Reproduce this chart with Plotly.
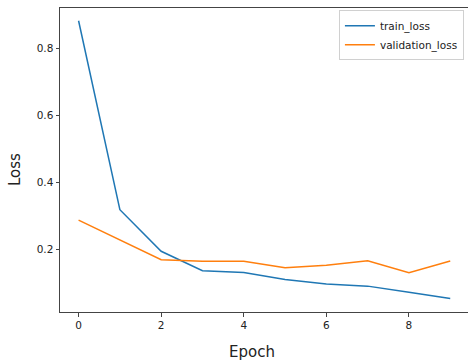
import plotly.graph_objects as go

epochs = [0, 1, 2, 3, 4, 5, 6, 7, 8, 9]
train_loss = [0.882, 0.318, 0.194, 0.136, 0.131, 0.110, 0.096, 0.090, 0.072, 0.053]
validation_loss = [0.287, 0.228, 0.169, 0.164, 0.164, 0.145, 0.152, 0.166, 0.130, 0.165]
x_ticks = [0, 2, 4, 6, 8]
y_ticks = [0.2, 0.4, 0.6, 0.8]

W, H = 468, 362
L, R, T, B = 60, 0, 8, 50

fig = go.Figure()
fig.add_trace(go.Scatter(x=epochs, y=train_loss, mode="lines", name="train_loss",
                         line=dict(color="#1f77b4", width=1.5)))
fig.add_trace(go.Scatter(x=epochs, y=validation_loss, mode="lines", name="validation_loss",
                         line=dict(color="#ff7f0e", width=1.5)))

font = "DejaVu Sans, sans-serif"
fig.update_layout(
    width=W, height=H,
    margin=dict(l=L, r=R, t=T, b=B),
    plot_bgcolor="white", paper_bgcolor="white",
    font=dict(family=font, size=10, color="#222"),
    showlegend=True,
    legend=dict(x=0.990, y=0.993, xanchor="right", yanchor="top",
                bgcolor="rgba(255,255,255,0.9)", bordercolor="#d0d0d0", borderwidth=1,
                font=dict(size=10.5, color="#222"), itemwidth=30,
                tracegroupgap=0),
    xaxis=dict(range=[-0.45, 9.43], tickvals=x_ticks, ticks="outside", ticklen=3.5,
               tickcolor="#444", showline=True, linecolor="#444", linewidth=1,
               mirror=True, showgrid=False, zeroline=False,
               tickfont=dict(size=10.5, color="#222")),
    yaxis=dict(range=[0.0128, 0.920], tickvals=y_ticks, tickformat=".1f",
               ticks="outside", ticklen=3.5, tickcolor="#444",
               showline=True, linecolor="#444", linewidth=1, mirror=False,
               showgrid=False, zeroline=False,
               tickfont=dict(size=10.5, color="#222")),
    annotations=[
        dict(text="Epoch", xref="paper", yref="paper",
             x=(252 - L) / (W - L - R), y=(H - B - 352) / (H - T - B),
             xanchor="center", yanchor="middle", showarrow=False,
             font=dict(size=15, color="#222")),
        dict(text="Loss", xref="paper", yref="paper",
             x=(15 - L) / (W - L - R), y=(H - B - 170) / (H - T - B),
             xanchor="center", yanchor="middle", showarrow=False, textangle=-90,
             font=dict(size=15, color="#222")),
    ],
)

fig.write_html("out.html", config={"displayModeBar": False},
               post_script="document.body.style.margin='0';document.body.style.overflow='hidden';")
